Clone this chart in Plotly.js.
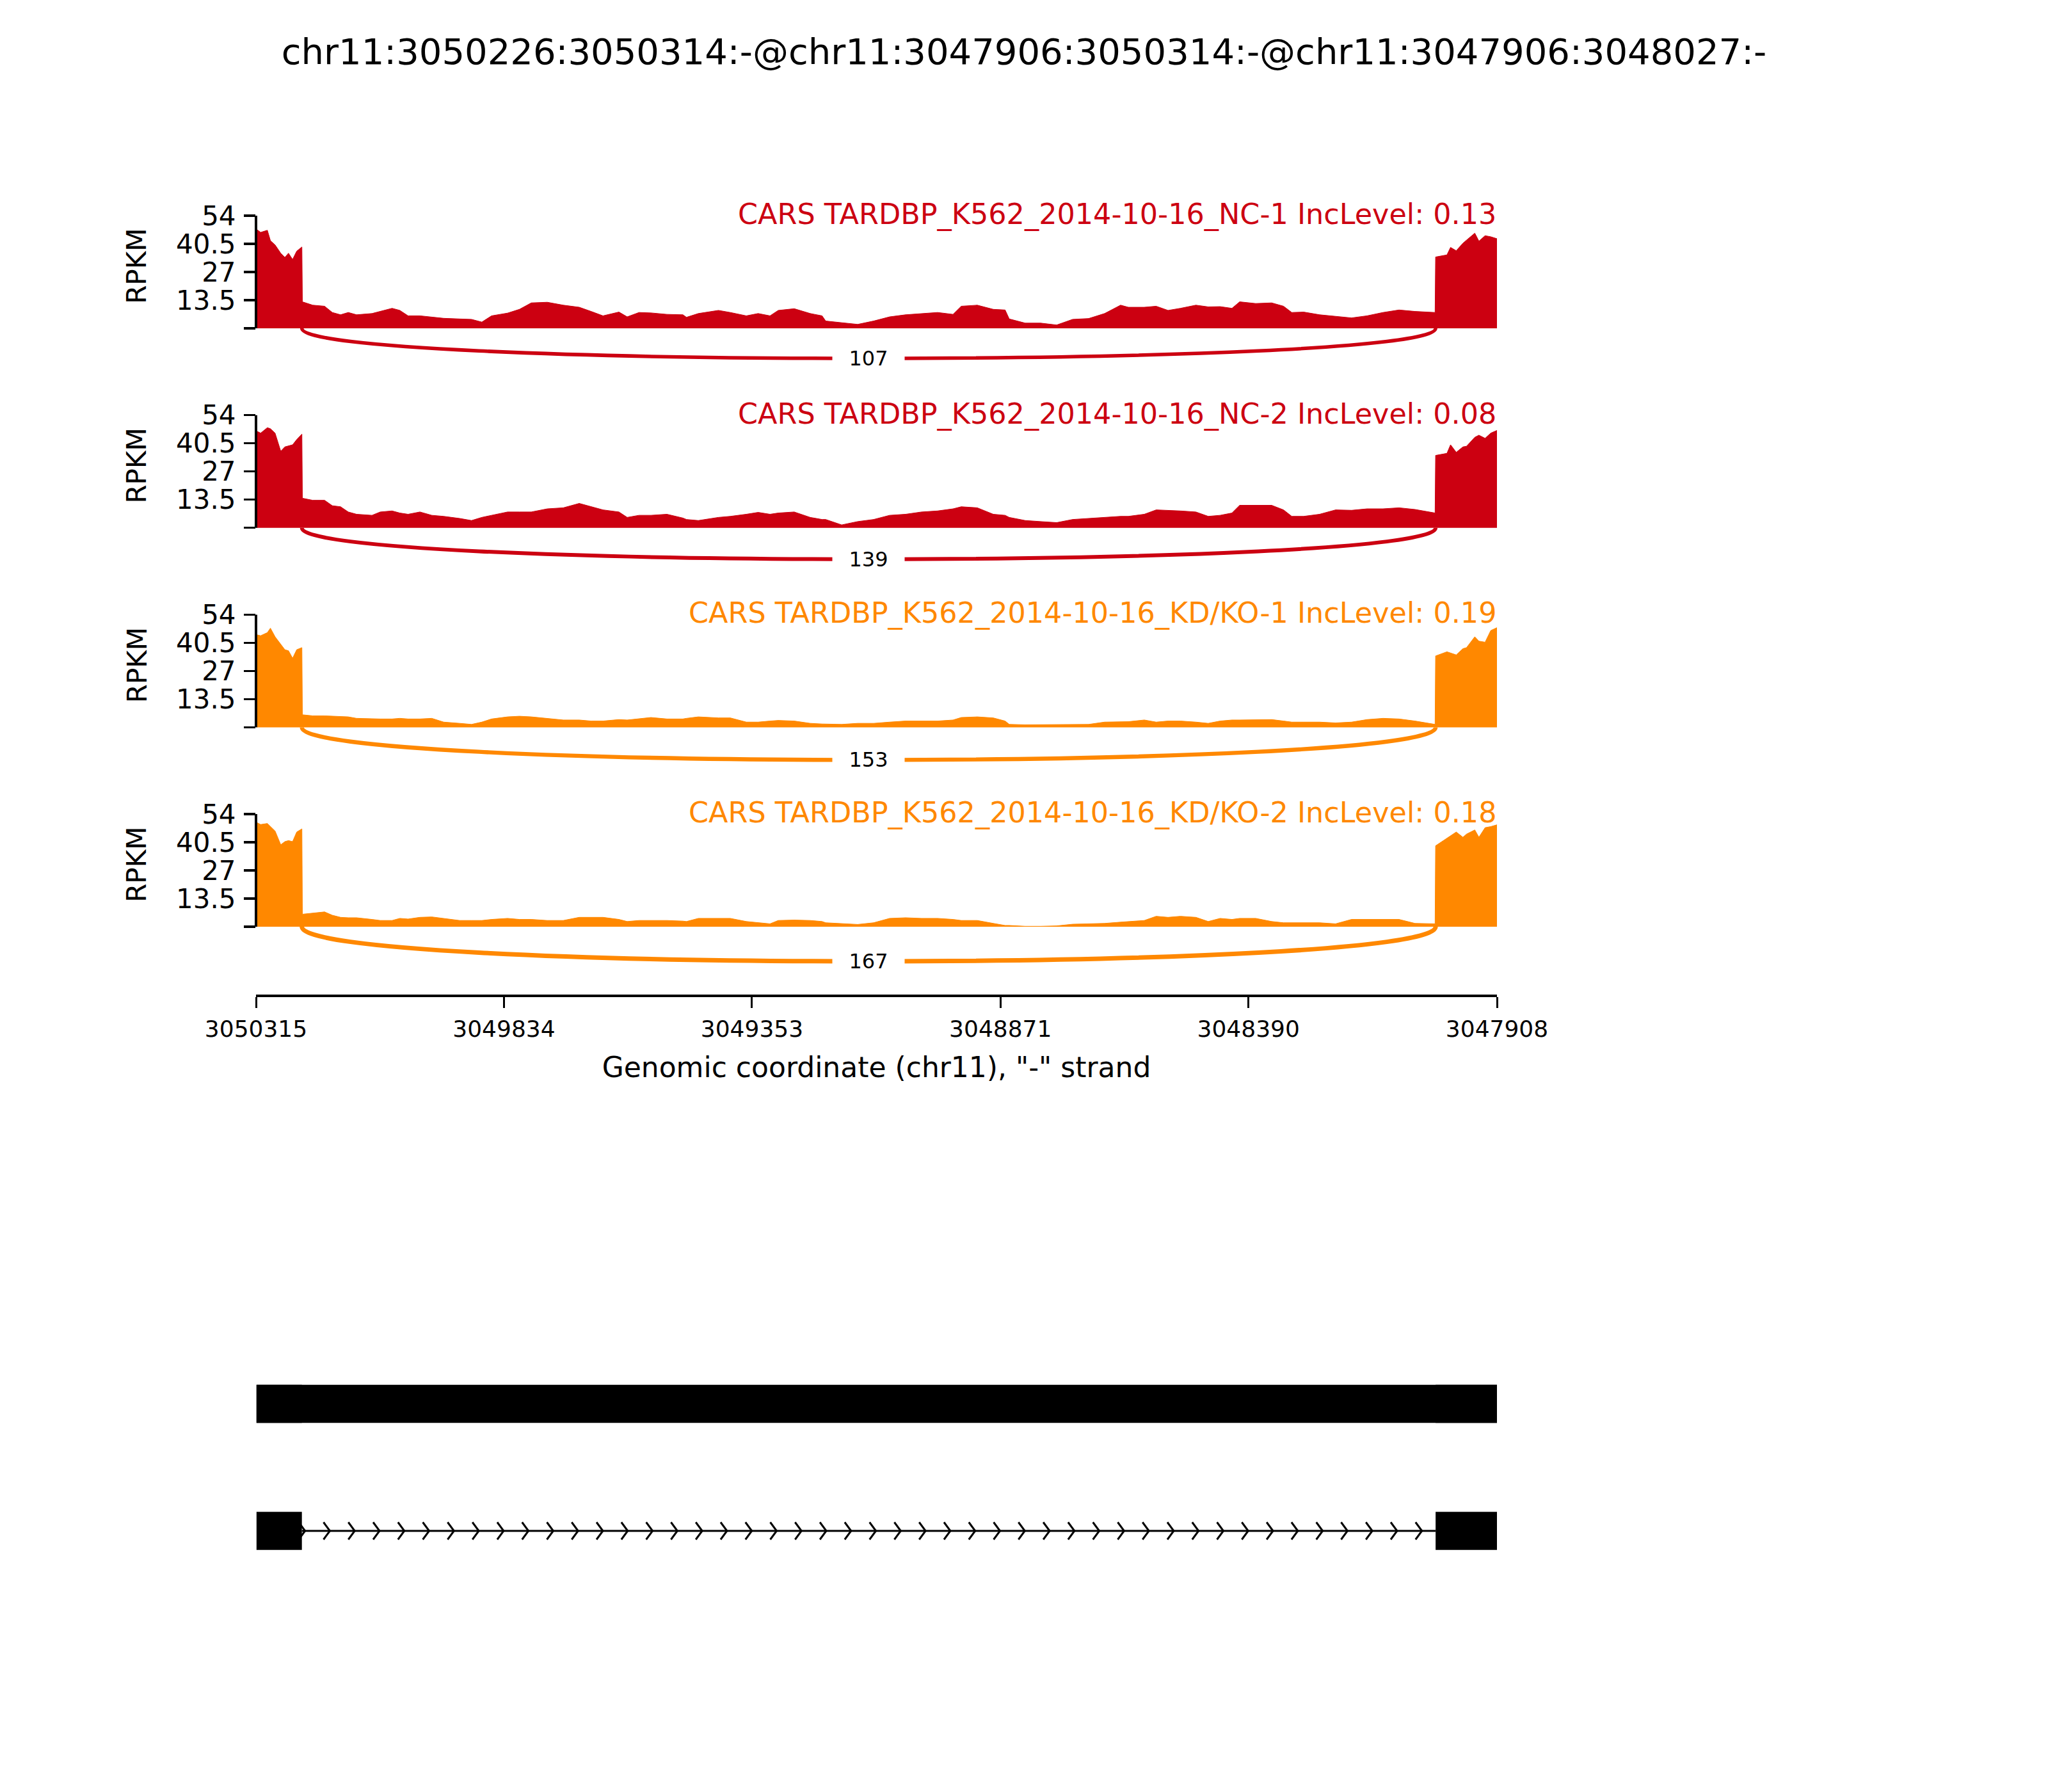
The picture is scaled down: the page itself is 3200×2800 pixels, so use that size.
<!DOCTYPE html>
<html><head><meta charset="utf-8">
<script src="https://cdn.plot.ly/plotly-3.0.1.min.js"></script>
<style>html,body{margin:0;padding:0;background:#fff}</style>
</head><body><div id="chart" style="width:3200px;height:2800px"></div>
<script>
// ---------------- DATA ----------------
const chartTitle = "chr11:3050226:3050314:-@chr11:3047906:3050314:-@chr11:3047906:3048027:-";
const sampleNames = ["CARS TARDBP_K562_2014-10-16_NC-1", "CARS TARDBP_K562_2014-10-16_NC-2",
                     "CARS TARDBP_K562_2014-10-16_KD/KO-1", "CARS TARDBP_K562_2014-10-16_KD/KO-2"];
const incLevels = ["0.13", "0.08", "0.19", "0.18"];
const junctionCounts = [107, 139, 153, 167];
const junctionCoords = [3050226, 3048027];

const positions = [
  3050314, 3050306, 3050293, 3050287, 3050278, 3050267, 3050259, 3050252, 3050244, 3050236, 3050226,
  3050225, 3050205, 3050182, 3050167, 3050151, 3050136, 3050120, 3050090, 3050074, 3050051,
  3050036, 3050020, 3049997, 3049974, 3049951, 3049920, 3049897, 3049877, 3049858, 3049827,
  3049804, 3049781, 3049750, 3049719, 3049688, 3049665, 3049642, 3049611, 3049595, 3049572,
  3049549, 3049518, 3049487, 3049480, 3049457, 3049418, 3049395, 3049364, 3049341, 3049318,
  3049302, 3049271, 3049240, 3049217, 3049210, 3049179, 3049148, 3049117, 3049086, 3049055,
  3049024, 3048993, 3048963, 3048947, 3048916, 3048885, 3048862, 3048854, 3048823, 3048793,
  3048762, 3048731, 3048700, 3048669, 3048638, 3048623, 3048592, 3048569, 3048546, 3048522,
  3048492, 3048468, 3048445, 3048422, 3048407, 3048376, 3048345, 3048322, 3048306, 3048283,
  3048252, 3048221, 3048190, 3048160, 3048129, 3048098, 3048067, 3048028,
  3048027, 3048005, 3047998, 3047987, 3047974, 3047967, 3047951, 3047943, 3047931, 3047920, 3047906
];

const covNC1 = [
  47.5, 46, 47, 42, 40, 36, 34, 36, 33, 37, 39,
  12.7, 11.1, 10.6, 7.6, 6.5, 7.6, 6.5, 7.1, 8.1, 9.6,
  8.6, 6.0, 6.0, 5.5, 4.8, 4.5, 4.3, 3.0, 6.0, 7.3,
  9.1, 12.2, 12.5, 11.1, 10.1, 8.1, 6.0, 7.8, 5.5, 7.6,
  7.4, 6.7, 6.5, 5.3, 7.1, 8.6, 7.6, 6.0, 7.1, 6.0,
  8.6, 9.4, 7.1, 6.0, 3.5, 2.7, 1.9, 3.5, 5.5, 6.5,
  7.1, 7.6, 6.7, 10.6, 11.1, 9.1, 8.8, 4.5, 2.5, 2.5,
  1.6, 4.3, 4.7, 7.1, 11.1, 10.1, 10.1, 10.6, 8.6, 9.6,
  11.1, 10.3, 10.4, 9.6, 12.7, 11.9, 12.2, 10.6, 7.6, 7.8,
  6.5, 5.7, 5.0, 6.0, 7.6, 8.8, 8.1, 7.6,
  34.2, 35.2, 38.8, 37.2, 40.8, 42.3, 45.6, 41.8, 44.4, 43.9, 42.8
];
const covNC2 = [
  46.4, 45.4, 48.0, 47.5, 45.4, 36.7, 38.8, 39.3, 39.8, 42.3, 44.9,
  14.2, 13.2, 13.2, 10.6, 10.1, 7.6, 6.5, 6.0, 7.6, 8.1,
  7.1, 6.5, 7.6, 6.0, 5.5, 4.5, 3.5, 5.0, 6.0, 7.6,
  7.6, 7.6, 9.1, 9.6, 11.7, 10.1, 8.6, 7.6, 5.0, 6.0,
  6.0, 6.5, 4.7, 4.0, 3.5, 5.0, 5.5, 6.5, 7.4, 6.5,
  7.1, 7.6, 5.0, 4.0, 4.0, 1.4, 3.0, 4.0, 6.0, 6.5,
  7.6, 8.1, 9.1, 10.1, 9.6, 6.5, 6.0, 5.0, 3.5, 3.0,
  2.5, 4.0, 4.5, 5.0, 5.5, 5.5, 6.5, 8.6, 8.4, 8.1,
  7.6, 5.5, 6.0, 7.1, 10.8, 10.8, 10.8, 8.6, 5.5, 5.5,
  6.5, 8.6, 8.4, 9.1, 9.1, 9.6, 8.8, 7.1,
  34.7, 35.7, 39.8, 36.2, 38.8, 39.1, 43.4, 44.4, 42.9, 45.4, 46.9
];
const covKD1 = [
  44.4, 43.9, 45.4, 47.5, 43.4, 39.8, 37.2, 36.7, 33.1, 37.2, 38.2,
  6.0, 5.5, 5.5, 5.3, 5.0, 5.0, 4.3, 4.0, 4.0, 4.0,
  4.3, 4.0, 4.0, 4.3, 2.5, 1.9, 1.4, 2.5, 4.0, 5.0,
  5.3, 5.0, 4.3, 3.5, 3.5, 3.0, 3.0, 3.7, 3.5, 4.0,
  4.7, 4.0, 4.0, 4.3, 5.0, 4.5, 4.5, 2.5, 2.5, 3.0,
  3.3, 3.0, 1.9, 1.6, 1.6, 1.4, 1.9, 1.9, 2.5, 3.0,
  3.0, 3.0, 3.5, 4.7, 5.0, 4.5, 3.0, 1.4, 1.2, 1.2,
  1.2, 1.2, 1.4, 2.5, 2.7, 2.7, 3.5, 2.5, 3.0, 3.0,
  2.5, 1.9, 3.0, 3.5, 3.5, 3.7, 3.7, 3.0, 2.5, 2.5,
  2.5, 2.1, 2.5, 3.7, 4.3, 4.0, 3.0, 1.4,
  34.2, 36.2, 35.7, 34.7, 37.7, 38.2, 43.4, 41.3, 40.8, 46.4, 48.0
];
const covKD2 = [
  50.0, 49.0, 49.5, 48.0, 45.9, 39.3, 40.8, 41.3, 40.8, 45.4, 46.9,
  6.0, 6.5, 7.1, 5.5, 4.5, 4.3, 4.3, 3.5, 3.0, 3.0,
  4.0, 3.7, 4.5, 4.7, 4.0, 3.0, 3.0, 3.0, 3.5, 4.0,
  3.5, 3.5, 3.0, 3.0, 4.5, 4.5, 4.5, 3.5, 2.5, 3.0,
  3.0, 3.0, 2.7, 2.5, 4.0, 4.0, 4.0, 2.5, 1.9, 1.4,
  3.0, 3.2, 3.0, 2.5, 1.9, 1.6, 1.1, 1.9, 4.0, 4.3,
  4.0, 4.0, 3.5, 3.0, 3.0, 1.6, 0.6, 0.6, 0.2, 0.2,
  0.4, 1.2, 1.4, 1.6, 2.2, 2.5, 3.0, 5.0, 4.5, 5.0,
  4.5, 2.5, 4.0, 3.5, 4.0, 4.0, 2.5, 1.9, 1.9, 1.9,
  1.9, 1.4, 3.5, 3.5, 3.5, 3.5, 1.6, 1.4,
  38.8, 42.3, 43.4, 45.4, 42.9, 44.4, 46.4, 42.9, 47.5, 48.0, 49.0
];

// exons of the event: [upstream end, downstream end] on the - strand
const exons = [[3050314, 3050226], [3050314, 3047906], [3048027, 3047906]];
const transcripts = [[0, 1, 2], [0, 2]];

const xRange = [3050315, 3047908];
const xTickVals = [3050315, 3049834, 3049353, 3048871, 3048390, 3047908];
const xTickText = ["3050315", "3049834", "3049353", "3048871", "3048390", "3047908"];
const yTickVals = [0, 13.5, 27, 40.5, 54];
const yTickText = ["", "13.5", "27", "40.5", "54"];
const xTitle = 'Genomic coordinate (chr11), "-" strand';

// ---------------- STYLE / LAYOUT ----------------
const W = 3200, H = 2800;
const FONT = "DejaVu Sans, Liberation Sans, sans-serif";
const trackColors = ["#CC0011", "#CC0011", "#FF8800", "#FF8800"];
const covs = [covNC1, covNC2, covKD1, covKD2];
const plotLeft = 400, plotRight = 2339;
const zeroPx = [513, 824.7, 1136.4, 1448];
const pxPerUnit = 176 / 54;
const yRange = [-22, 58];
const arcDepthPx = [47, 49, 51, 54];
const arcWidths = [5.5, 6.0, 6.4, 7.0];
const xAxisPx = 1556;
const geneRowPx = [2392, 2193.5];   // row 0 (bottom), row 1 (top)
const rowUnit = geneRowPx[0] - geneRowPx[1];
const exonHalf = 29.75 / rowUnit;

const fx = px => px / W;
const fy = px => 1 - px / H;
const xDom = [fx(plotLeft), fx(plotRight)];

const data = [];
const shapes = [];
const annotations = [];
const layout = {
  width: W, height: H,
  margin: {l: 0, r: 0, t: 0, b: 0},
  paper_bgcolor: "#fff", plot_bgcolor: "rgba(0,0,0,0)",
  showlegend: false,
  font: {family: FONT, color: "#000"},
  title: {text: chartTitle, font: {family: FONT, size: 56, color: "#000"},
          x: 0.5, xanchor: "center", y: fy(80), yanchor: "middle"},
};

for (let i = 0; i < 4; i++) {
  const n = i + 1;
  const xa = n === 1 ? "x" : "x" + n;
  const ya = n === 1 ? "y" : "y" + n;
  const topPx = zeroPx[i] - yRange[1] * pxPerUnit;
  const botPx = zeroPx[i] - yRange[0] * pxPerUnit;
  const xKey = n === 1 ? "xaxis" : "xaxis" + n;
  const yKey = n === 1 ? "yaxis" : "yaxis" + n;
  layout[xKey] = {
    domain: xDom, range: xRange, anchor: ya, showgrid: false, zeroline: false,
    showline: false, showticklabels: false, ticks: "", fixedrange: true
  };
  if (i === 3) {
    Object.assign(layout[xKey], {
      anchor: "free", position: fy(xAxisPx),
      showline: true, linecolor: "#000", linewidth: 4,
      ticks: "outside", ticklen: 17, tickwidth: 3, tickcolor: "#000",
      tickvals: xTickVals, ticktext: xTickText, showticklabels: true,
      tickfont: {family: FONT, size: 36, color: "#000"},
      ticklabelstandoff: 2,
      title: {text: xTitle, font: {family: FONT, size: 44, color: "#000"}, standoff: 24}
    });
  }
  layout[yKey] = {
    domain: [fy(botPx), fy(topPx)], range: yRange, anchor: xa,
    showgrid: false, zeroline: false, showline: false,
    tickvals: yTickVals, ticktext: yTickText,
    ticks: "outside", ticklen: 18, tickwidth: 3.5, tickcolor: "#000",
    tickfont: {family: FONT, size: 42, color: "#000"}, ticklabelstandoff: 4,
    fixedrange: true
  };

  data.push({
    type: "scatter", mode: "lines", x: positions, y: covs[i], xaxis: xa, yaxis: ya,
    line: {color: trackColors[i], width: 1}, fill: "tozeroy", fillcolor: trackColors[i],
    hoverinfo: "skip"
  });

  // y-axis spine only from 0 to 54
  shapes.push({type: "line", xref: xa + " domain", yref: ya, x0: 0, x1: 0,
               y0: yTickVals[0], y1: yTickVals[yTickVals.length - 1],
               line: {color: "#000", width: 4}});

  // junction arc (cubic Bezier below the track)
  const a = junctionCoords[0], b = junctionCoords[1];
  const Hd = arcDepthPx[i] / 0.75 / pxPerUnit;
  shapes.push({type: "path", xref: xa, yref: ya,
               path: `M ${a},0 C ${a},${-Hd} ${b},${-Hd} ${b},0`,
               line: {color: trackColors[i], width: arcWidths[i]}});
  annotations.push({xref: xa, yref: ya, x: (a + b) / 2, y: -0.75 * Hd,
                    text: String(junctionCounts[i]), showarrow: false,
                    font: {family: FONT, size: 32, color: "#000"},
                    bgcolor: "#fff", width: 112, height: 46, borderpad: 0,
                    xanchor: "center", yanchor: "middle"});

  // sample label
  annotations.push({xref: "paper", yref: ya, x: xDom[1], y: 54 + 2 / pxPerUnit,
                    text: sampleNames[i] + " IncLevel: " + incLevels[i], showarrow: false,
                    font: {family: FONT, size: 44.5, color: trackColors[i]},
                    xanchor: "right", yanchor: "middle", borderpad: 0});
  // RPKM label
  annotations.push({xref: "paper", yref: ya, x: fx(214), y: 29.8,
                    text: "RPKM", textangle: -90, showarrow: false,
                    font: {family: FONT, size: 42, color: "#000"},
                    xanchor: "center", yanchor: "middle"});
}

// ---------------- GENE MODEL ----------------
layout.xaxis5 = {domain: xDom, range: xRange, anchor: "y5", visible: false, fixedrange: true};
layout.yaxis5 = {domain: [fy(geneRowPx[0] + 0.5 * rowUnit), fy(geneRowPx[1] - 0.5 * rowUnit)],
                 range: [-0.5, 1.5], anchor: "x5", visible: false, fixedrange: true};

transcripts.forEach((exIdx, t) => {
  const row = transcripts.length - 1 - t;   // first transcript drawn on top
  const ex = exIdx.map(k => exons[k]);
  if (exIdx.length === 2) {
    const iStart = ex[0][1], iEnd = ex[1][0];
    data.push({type: "scatter", mode: "lines", x: [iStart, iEnd], y: [row, row],
               xaxis: "x5", yaxis: "y5", line: {color: "#000", width: 3}, hoverinfo: "skip"});
    // strand chevrons every 1/50 of the window
    const step = (xRange[0] - xRange[1]) / 50;
    const half = 6.2, hy = 13.5 / rowUnit;
    const cx = [], cy = [];
    for (let c = iStart; c > iEnd; c -= step) {
      cx.push(c + half, c - half, c + half, null);
      cy.push(row + hy, row, row - hy, null);
    }
    data.push({type: "scatter", mode: "lines", x: cx, y: cy, xaxis: "x5", yaxis: "y5",
               line: {color: "#000", width: 3}, hoverinfo: "skip"});
  }
  ex.forEach(e => {
    shapes.push({type: "rect", xref: "x5", yref: "y5", x0: e[0], x1: e[1],
                 y0: row - exonHalf, y1: row + exonHalf,
                 fillcolor: "#000", line: {width: 0}, layer: "above"});
  });
});

layout.shapes = shapes;
layout.annotations = annotations;

Plotly.newPlot("chart", data, layout, {staticPlot: true, displayModeBar: false});
</script></body></html>
